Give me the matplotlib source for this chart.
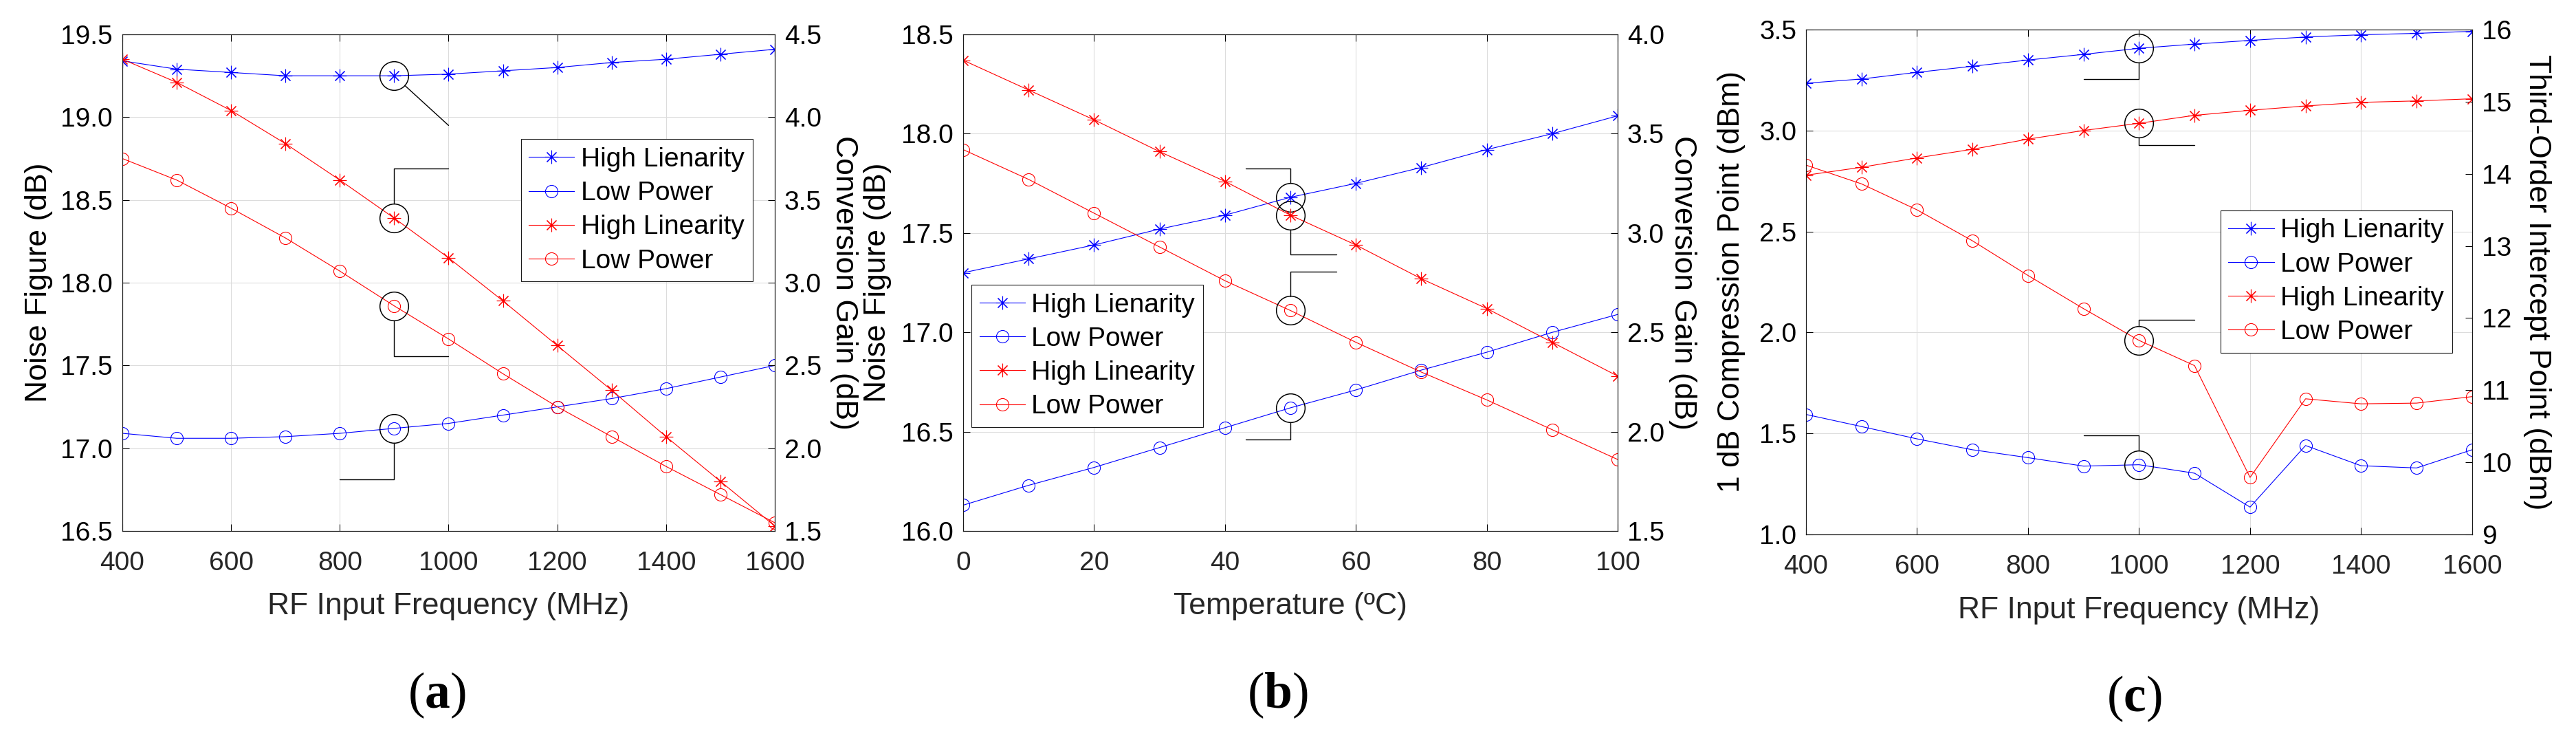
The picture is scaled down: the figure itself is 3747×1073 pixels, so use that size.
import matplotlib
matplotlib.use('Agg')
import matplotlib.pyplot as plt
import numpy as np

plt.rcParams['font.family'] = ['Liberation Sans', 'DejaVu Sans']
plt.rcParams['mathtext.fontset'] = 'custom'
plt.rcParams['mathtext.rm'] = 'Liberation Serif'
plt.rcParams['mathtext.bf'] = 'Liberation Serif:bold'

# ---- data ----
freq = [400, 500, 600, 700, 800, 900, 1000, 1100, 1200, 1300, 1400, 1500, 1600]
temp = [0, 10, 20, 30, 40, 50, 60, 70, 80, 90, 100]

# (a) noise figure (dB, left) and conversion gain (dB, right) vs frequency
nf_hl_freq = [19.34, 19.29, 19.27, 19.25, 19.25, 19.25, 19.26, 19.28, 19.30, 19.33, 19.35, 19.38, 19.41]
nf_lp_freq = [17.09, 17.06, 17.06, 17.07, 17.09, 17.12, 17.15, 17.20, 17.25, 17.30, 17.36, 17.43, 17.50]
cg_hl_freq = [4.35, 4.21, 4.04, 3.84, 3.62, 3.39, 3.15, 2.89, 2.62, 2.35, 2.07, 1.80, 1.53]
cg_lp_freq = [3.75, 3.62, 3.45, 3.27, 3.07, 2.86, 2.66, 2.45, 2.25, 2.07, 1.89, 1.72, 1.55]

# (b) noise figure and conversion gain vs temperature
nf_hl_temp = [17.30, 17.37, 17.44, 17.52, 17.59, 17.68, 17.75, 17.83, 17.92, 18.00, 18.09]
nf_lp_temp = [16.13, 16.23, 16.32, 16.42, 16.52, 16.62, 16.71, 16.81, 16.90, 17.00, 17.09]
cg_hl_temp = [3.87, 3.72, 3.57, 3.41, 3.26, 3.09, 2.94, 2.77, 2.62, 2.45, 2.28]
cg_lp_temp = [3.42, 3.27, 3.10, 2.93, 2.76, 2.61, 2.45, 2.30, 2.16, 2.01, 1.86]

# (c) P1dB (dBm, left) and IIP3 (dBm, right) vs frequency
p1db_hl = [3.234, 3.255, 3.288, 3.318, 3.349, 3.377, 3.407, 3.428, 3.446, 3.463, 3.474, 3.481, 3.491]
p1db_lp = [1.594, 1.534, 1.473, 1.419, 1.380, 1.338, 1.345, 1.303, 1.135, 1.440, 1.340, 1.329, 1.419]
iip3_hl = [13.98, 14.09, 14.22, 14.34, 14.48, 14.60, 14.70, 14.81, 14.88, 14.94, 14.99, 15.01, 15.04]
iip3_lp = [14.12, 13.86, 13.50, 13.07, 12.59, 12.13, 11.69, 11.34, 9.79, 10.88, 10.81, 10.82, 10.91]

labels = ['High Lienarity', 'Low Power', 'High Linearity', 'Low Power']

STAR = (8, 2, 0)
TICK_FS = 28
LABEL_FS = 32
XCOL = '#262626'


def style_axes(ax1, ax2, xlim, xticks, y1, y2, y1fmt, y2fmt):
    ax1.set_xlim(xlim)
    ax1.set_xticks(xticks)
    ax1.set_xticklabels([str(v) for v in xticks], color=XCOL)
    ax1.set_ylim(y1[0], y1[-1])
    ax1.set_yticks(y1)
    ax1.set_yticklabels([y1fmt % v for v in y1])
    ax2.set_ylim(y2[0], y2[-1])
    ax2.set_yticks(y2)
    ax2.set_yticklabels([y2fmt % v for v in y2])
    ax1.grid(True, color='#dcdcdc', lw=0.8)
    ax1.set_axisbelow(True)
    ax1.tick_params(axis='x', direction='in', length=7.5, width=0.75, top=True,
                    pad=21, labelsize=TICK_FS)
    ax1.tick_params(axis='y', direction='in', length=7.5, width=0.75, right=False,
                    pad=10, labelsize=TICK_FS)
    ax2.tick_params(axis='y', direction='in', length=7.5, width=0.75, left=False,
                    pad=10, labelsize=TICK_FS)
    for ax in (ax1, ax2):
        for s in ax.spines.values():
            s.set_linewidth(0.8)
            s.set_color('#1a1a1a')


def draw_series(ax1, ax2, x, a, b, c, d):
    kw = dict(lw=0.8, mew=0.8)
    h1, = ax1.plot(x, a, color='blue', marker=STAR, ms=14, **kw)
    h2, = ax1.plot(x, b, color='blue', marker='o', ms=13, mfc='none', **kw)
    h3, = ax2.plot(x, c, color='red', marker=STAR, ms=14, **kw)
    h4, = ax2.plot(x, d, color='red', marker='o', ms=13, mfc='none', **kw)
    return [h1, h2, h3, h4]


def mark(ax, x, y, end, diag=False):
    # black ring round a point plus its leader line towards the axis it belongs to
    ax.plot(x, y, 'o', ms=30, mfc='none', mec='k', mew=1.1, zorder=5)
    style = 'arc3' if diag else 'angle,angleA=0,angleB=90,rad=0'
    ax.annotate('', xy=(x, y), xytext=end,
                arrowprops=dict(arrowstyle='-', connectionstyle=style, color='k',
                                lw=1.0, shrinkA=0, shrinkB=15))


def add_legend(ax, handles, loc, anchor):
    leg = ax.legend(handles, labels, loc=loc, bbox_to_anchor=anchor, fontsize=TICK_FS,
                    fancybox=False, framealpha=1, edgecolor='#1a1a1a', borderpad=0.3,
                    handlelength=1.7, handletextpad=0.25, labelspacing=0.34,
                    borderaxespad=0)
    leg.get_frame().set_linewidth(0.8)
    leg.set_zorder(10)


fig = plt.figure(figsize=(37.48, 10.73), dpi=100)

# ---------- (a) ----------
axa = fig.add_axes([0.04749, 0.2805, 0.2532, 0.6729])
axa2 = axa.twinx()
h = draw_series(axa, axa2, freq, nf_hl_freq, nf_lp_freq, cg_hl_freq, cg_lp_freq)
style_axes(axa, axa2, (400, 1600), freq[::2], np.arange(16.5, 19.51, 0.5),
           np.arange(1.5, 4.51, 0.5), '%.1f', '%.1f')
i = freq.index(900)
mark(axa, freq[i], nf_hl_freq[i], (1000, 18.95), diag=True)
mark(axa2, freq[i], cg_hl_freq[i], (1000, 3.69))
mark(axa2, freq[i], cg_lp_freq[i], (1000, 2.555))
mark(axa, freq[i], nf_lp_freq[i], (800, 16.813))
axa.set_xlabel('RF Input Frequency (MHz)', fontsize=LABEL_FS, color=XCOL, va='center')
axa.xaxis.set_label_coords(0.5, -0.151)
axa.set_ylabel('Noise Figure (dB)', fontsize=LABEL_FS, va='center')
axa.yaxis.set_label_coords(-0.128, 0.5)
axa2.set_ylabel('Conversion Gain (dB)', fontsize=LABEL_FS, rotation=270, va='center')
axa2.yaxis.set_label_coords(1.106, 0.5)
add_legend(axa2, h, 'upper right', (0.966, 0.789))

# ---------- (b) ----------
axb = fig.add_axes([0.3738, 0.2805, 0.2540, 0.6729])
axb2 = axb.twinx()
h = draw_series(axb, axb2, temp, nf_hl_temp, nf_lp_temp, cg_hl_temp, cg_lp_temp)
style_axes(axb, axb2, (0, 100), temp[::2], np.arange(16.0, 18.51, 0.5),
           np.arange(1.5, 4.01, 0.5), '%.1f', '%.1f')
i = temp.index(50)
mark(axb, temp[i], nf_hl_temp[i], (43.2, 17.825))
mark(axb2, temp[i], cg_hl_temp[i], (57.0, 2.893))
mark(axb2, temp[i], cg_lp_temp[i], (57.0, 2.806))
mark(axb, temp[i], nf_lp_temp[i], (43.2, 16.462))
axb.set_xlabel('Temperature (ºC)', fontsize=LABEL_FS, color=XCOL, va='center')
axb.xaxis.set_label_coords(0.5, -0.151)
axb.set_ylabel('Noise Figure (dB)', fontsize=LABEL_FS, va='center')
axb.yaxis.set_label_coords(-0.131, 0.5)
axb2.set_ylabel('Conversion Gain (dB)', fontsize=LABEL_FS, rotation=270, va='center')
axb2.yaxis.set_label_coords(1.099, 0.5)
add_legend(axb2, h, 'upper left', (0.0126, 0.496))

# ---------- (c) ----------
axc = fig.add_axes([0.7009, 0.2759, 0.2585, 0.6841])
axc2 = axc.twinx()
h = draw_series(axc, axc2, freq, p1db_hl, p1db_lp, iip3_hl, iip3_lp)
style_axes(axc, axc2, (400, 1600), freq[::2], np.arange(1.0, 3.51, 0.5),
           np.arange(9, 17, 1), '%.1f', '%d')
i = freq.index(1000)
mark(axc, freq[i], p1db_hl[i], (900, 3.253))
mark(axc2, freq[i], iip3_hl[i], (1100, 14.40))
mark(axc2, freq[i], iip3_lp[i], (1100, 11.975))
mark(axc, freq[i], p1db_lp[i], (900, 1.492))
axc.set_xlabel('RF Input Frequency (MHz)', fontsize=LABEL_FS, color=XCOL, va='center')
axc.xaxis.set_label_coords(0.5, -0.1505)
axc.set_ylabel('1 dB Compression Point (dBm)', fontsize=LABEL_FS, va='center')
axc.yaxis.set_label_coords(-0.1115, 0.5)
axc2.set_ylabel('Third-Order Intercept Point (dBm)', fontsize=LABEL_FS, rotation=270,
                va='center')
axc2.yaxis.set_label_coords(1.098, 0.5)
add_legend(axc2, h, 'upper right', (0.970, 0.642))

# panel tags
for xc, yc, t in [(635, 1011, 'a'), (1858, 1011, 'b'), (3104, 1016, 'c')]:
    fig.text(xc / 3748, 1 - yc / 1073, r'($\mathbf{%s}$)' % t, ha='center', va='center',
             fontsize=53, family='Liberation Serif')

fig.savefig('out.png', dpi=100)
